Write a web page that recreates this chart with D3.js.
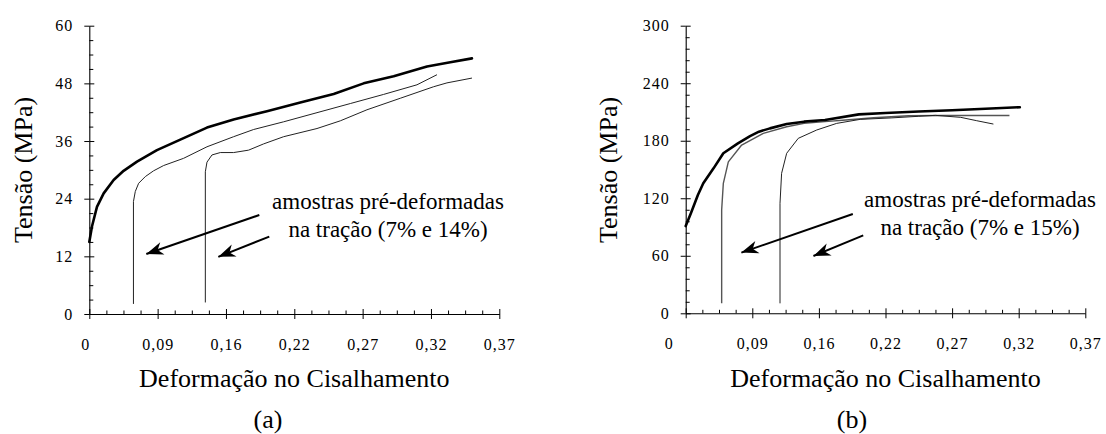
<!DOCTYPE html>
<html>
<head>
<meta charset="utf-8">
<script src="https://cdn.jsdelivr.net/npm/d3@7"></script>
<style>
  html, body { margin: 0; padding: 0; background: #fff; }
  svg { display: block; }
</style>
</head>
<body>
<svg id="chart" width="1106" height="434"></svg>
<script>
// ---------- DATA ----------
// x values are expressed in axis-tick units (0..6), the axis carries the printed labels below
const xTickLabels = ["0", "0,09", "0,16", "0,22", "0,27", "0,32", "0,37"];
const xTickIndex = [0, 1, 2, 3, 4, 5, 6];
const yTicksA = [0, 12, 24, 36, 48, 60];
const yTicksB = [0, 60, 120, 180, 240, 300];

// Panel (a) – tensão (MPa)
const aX0 = [0, 0.039, 0.112, 0.21, 0.356, 0.502, 0.698, 0.99, 1.332, 1.722, 2.112, 2.60, 3.088, 3.576, 4.015, 4.454, 4.942, 5.283, 5.60];
const aY0 = [15.0, 18.2, 22.3, 25.1, 27.9, 29.8, 31.7, 34.1, 36.3, 38.8, 40.5, 42.2, 44.0, 45.8, 48.0, 49.5, 51.5, 52.4, 53.2];
const aX7 = [0.646, 0.646, 0.673, 0.722, 0.82, 0.941, 1.088, 1.38, 1.722, 2.112, 2.405, 2.844, 3.332, 3.82, 4.307, 4.795, 5.088];
const aY7 = [2.1, 23.4, 25.5, 27.2, 28.6, 29.8, 30.9, 32.4, 34.8, 36.9, 38.4, 40.0, 41.9, 43.8, 45.7, 47.7, 49.8];
const aX14 = [1.698, 1.698, 1.722, 1.795, 1.917, 2.112, 2.331, 2.551, 2.844, 3.332, 3.673, 4.063, 4.551, 5.039, 5.234, 5.60];
const aY14 = [2.4, 29.6, 31.6, 33.1, 33.6, 33.6, 34.1, 35.4, 36.9, 38.6, 40.2, 42.5, 44.9, 47.3, 48.1, 49.1];

// Panel (b) – tensão (MPa)
const bX0 = [0, 0.078, 0.183, 0.264, 0.418, 0.565, 0.784, 0.966, 1.1, 1.265, 1.516, 1.777, 2.091, 2.6, 3.0, 3.5, 4.0, 4.5, 5.017];
const bY0 = [91, 104.3, 123.4, 135.6, 151.2, 166.9, 177.3, 184.9, 189.5, 192.9, 197.4, 199.9, 201.6, 207.5, 209.0, 210.5, 211.8, 213.3, 215.0];
const bX7 = [0.54, 0.54, 0.565, 0.64, 0.84, 1.165, 1.516, 1.777, 2.091, 2.404, 2.822, 3.345, 3.868, 4.39, 4.861];
const bY7 = [10.4, 107.8, 135.6, 158.0, 175.5, 187.7, 194.6, 198.1, 199.9, 201.6, 204.0, 206.0, 206.3, 206.3, 206.3];
const bX15 = [1.416, 1.416, 1.44, 1.516, 1.69, 1.967, 2.267, 2.62, 3.084, 3.5, 3.75, 4.13, 4.37, 4.62];
const bY15 = [10.4, 114.7, 146.0, 166.9, 182.5, 191.2, 198.1, 202.3, 203.8, 205.5, 206.5, 204.4, 200.9, 197.4];

// annotation arrows: [xStart, yStart, xEnd, yEnd] in data units
const arrowsA = [[2.488, 20.6, 0.834, 12.5], [2.634, 16.1, 1.888, 11.9]];
const arrowsB = [[2.509, 103.6, 0.836, 63.3], [2.666, 81.3, 1.918, 59.8]];
const noteA = ["amostras pré-deformadas", "na tração (7% e 14%)"];
const noteB = ["amostras pré-deformadas", "na tração (7% e 15%)"];
const xTitle = "Deformação no Cisalhamento";
const yTitle = "Tensão (MPa)";

// ---------- DRAW ----------
const SERIF = "'Liberation Serif', Tinos, 'Times New Roman', Times, 'DejaVu Serif', serif";
const svg = d3.select("#chart");
svg.append("rect").attr("width", 1106).attr("height", 434).attr("fill", "#fff");

svg.append("defs").append("marker")
  .attr("id", "head").attr("markerUnits", "userSpaceOnUse")
  .attr("viewBox", "-18 -8 20 16").attr("refX", 0).attr("refY", 0)
  .attr("markerWidth", 20).attr("markerHeight", 16).attr("orient", "auto")
  .append("path").attr("d", "M0,0 L-17,-6.5 L-12,0 L-17,6.5 Z").attr("fill", "#000");

const zip = (xs, ys) => xs.map((x, i) => [x, ys[i]]);

function styleText(sel, size, ls) {
  sel.attr("font-family", SERIF).style("font-family", SERIF)
    .attr("font-size", size).style("font-size", size + "px").attr("fill", "#000");
  if (ls) sel.style("letter-spacing", ls + "px");
  return sel;
}

function panel(cfg) {
  const x = d3.scaleLinear().domain([0, 6]).range([cfg.x0, cfg.x1]);
  const y = d3.scaleLinear().domain([0, cfg.ymax]).range([cfg.yb, cfg.yt]);
  const g = svg.append("g");
  const fmt = i => xTickLabels[i];

  // x axis: labels + outer part of major ticks
  const gx = g.append("g").attr("transform", `translate(0,${cfg.yb})`)
    .call(d3.axisBottom(x).tickValues(xTickIndex).tickFormat(fmt).tickSize(5).tickSizeOuter(0).tickPadding(19.5));
  gx.attr("font-family", SERIF).attr("font-size", 16);
  styleText(gx.selectAll("text"), 16, 1);
  gx.selectAll("text").filter((d) => d === 0).attr("x", cfg.zeroShift);
  // inner ticks (majors and minors)
  g.append("g").attr("transform", `translate(0,${cfg.yb})`)
    .call(d3.axisTop(x).tickValues(xTickIndex).tickFormat("").tickSize(5).tickSizeOuter(0))
    .select(".domain").remove();
  g.append("g").attr("transform", `translate(0,${cfg.yb})`)
    .call(d3.axisTop(x).tickValues(d3.range(0, 6, 0.25).filter(v => v % 1 !== 0)).tickFormat("").tickSize(3.5).tickSizeOuter(0))
    .select(".domain").remove();

  // y axis
  const gy = g.append("g").attr("transform", `translate(${cfg.x0},0)`)
    .call(d3.axisLeft(y).tickValues(cfg.yTicks).tickSize(5).tickSizeOuter(0).tickPadding(11));
  gy.attr("font-family", SERIF).attr("font-size", 16);
  styleText(gy.selectAll("text"), 16, 1);
  g.append("g").attr("transform", `translate(${cfg.x0},0)`)
    .call(d3.axisRight(y).tickValues(cfg.yTicks).tickFormat("").tickSize(5).tickSizeOuter(0))
    .select(".domain").remove();
  g.append("g").attr("transform", `translate(${cfg.x0},0)`)
    .call(d3.axisRight(y).tickValues(d3.range(0, cfg.ymax, cfg.yMinor).filter(v => !cfg.yTicks.includes(v))).tickFormat("").tickSize(4).tickSizeOuter(0))
    .select(".domain").remove();
  g.selectAll(".domain").attr("stroke", "#000").attr("stroke-width", 1.1);
  g.selectAll(".tick line").attr("stroke", "#000");

  // curves
  const line = d3.line().x(d => x(d[0])).y(d => y(d[1]));
  cfg.thin.forEach(s => {
    g.append("path").datum(s.pts).attr("d", line).attr("fill", "none")
      .attr("stroke", s.color).attr("stroke-width", s.w).attr("stroke-linejoin", "round");
  });
  g.append("path").datum(cfg.base).attr("d", line).attr("fill", "none")
    .attr("stroke", "#000").attr("stroke-width", 2.6).attr("stroke-linejoin", "round").attr("stroke-linecap", "round");

  // arrows
  cfg.arrows.forEach(a => {
    g.append("line").attr("x1", x(a[0])).attr("y1", y(a[1])).attr("x2", x(a[2])).attr("y2", y(a[3]))
      .attr("stroke", "#000").attr("stroke-width", 2).attr("marker-end", "url(#head)");
  });

  // annotation
  cfg.note.forEach((t, i) => {
    styleText(g.append("text").attr("x", cfg.noteX).attr("y", cfg.noteY + i * 28)
      .attr("text-anchor", "middle").text(t), 23);
  });

  // titles
  styleText(g.append("text").attr("x", (cfg.x0 + cfg.x1) / 2).attr("y", 386.5)
    .attr("text-anchor", "middle").text(xTitle), 26);
  styleText(g.append("text").attr("transform", `translate(${cfg.yTitleX},170) rotate(-90)`)
    .attr("text-anchor", "middle").text(yTitle), 26);
  styleText(g.append("text").attr("x", cfg.labelX).attr("y", 428)
    .attr("text-anchor", "middle").text(cfg.label), 26);
}

panel({
  x0: 89.3, x1: 499.3, yb: 314, yt: 25.7, ymax: 60, yTicks: yTicksA, yMinor: 3,
  zeroShift: -4,
  base: zip(aX0, aY0),
  thin: [{ pts: zip(aX7, aY7), color: "#222", w: 1 }, { pts: zip(aX14, aY14), color: "#222", w: 1 }],
  arrows: arrowsA, note: noteA, noteX: 388, noteY: 209,
  yTitleX: 32, labelX: 268, label: "(a)"
});
panel({
  x0: 685.7, x1: 1085.3, yb: 313.3, yt: 25.7, ymax: 300, yTicks: yTicksB, yMinor: 12,
  zeroShift: -17,
  base: zip(bX0, bY0),
  thin: [{ pts: zip(bX7, bY7), color: "#555", w: 1.4 }, { pts: zip(bX15, bY15), color: "#222", w: 1 }],
  arrows: arrowsB, note: noteB, noteX: 980, noteY: 207,
  yTitleX: 617, labelX: 852, label: "(b)"
});
</script>
</body>
</html>
